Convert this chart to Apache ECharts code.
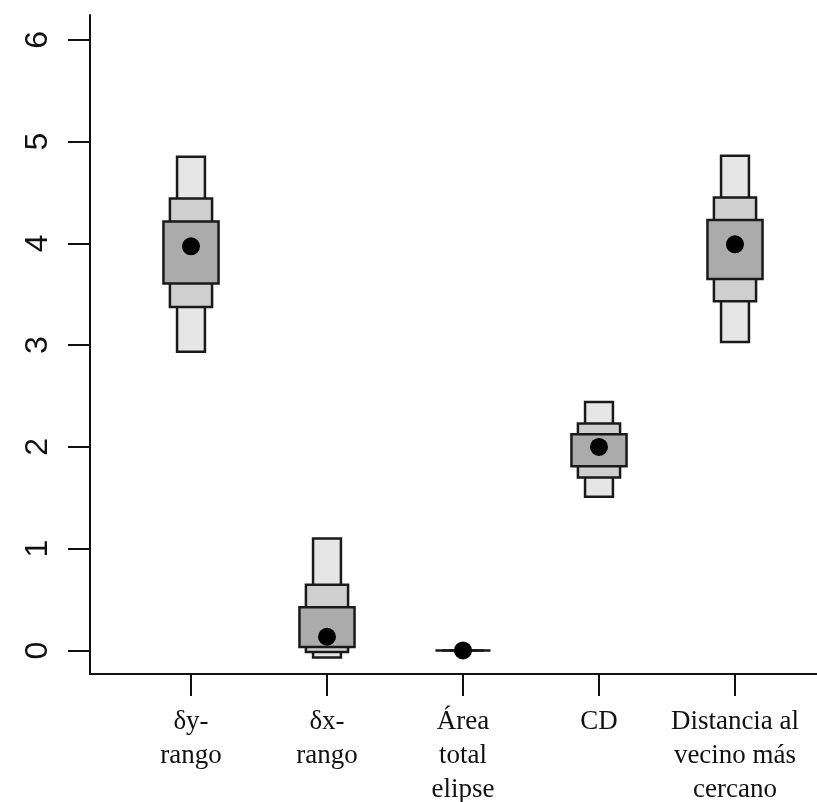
<!DOCTYPE html>
<html>
<head>
<meta charset="utf-8">
<script src="https://cdn.jsdelivr.net/npm/echarts@6/dist/echarts.min.js"></script>
<style>html,body{margin:0;padding:0;background:#fff}#c{width:817px;height:802px}</style>
</head>
<body>
<div id="c"></div>
<script>
const categories = ['δy-\nrango', 'δx-\nrango', 'Área\ntotal\nelipse', 'CD', 'Distancia al\nvecino más\ncercano'];
const outerLow  = [2.935, -0.07, 0, 1.51, 3.03];
const outerHigh = [4.85, 1.10, 0, 2.44, 4.86];
const midLow    = [3.375, -0.015, 0, 1.70, 3.43];
const midHigh   = [4.44, 0.645, 0, 2.23, 4.45];
const innerLow  = [3.605, 0.035, 0, 1.81, 3.65];
const innerHigh = [4.215, 0.425, 0, 2.125, 4.23];
const pointValues = [3.97, 0.135, 0, 2.00, 3.99];
const yTicks = [0, 1, 2, 3, 4, 5, 6];
const xTicks = [1, 2, 3, 4, 5];

const data = categories.map((c, i) => [i + 1, outerLow[i], outerHigh[i], midLow[i], midHigh[i], innerLow[i], innerHigh[i], pointValues[i]]);

const levels = [
  { lo: 1, hi: 2, frac: 0.205, fill: '#e6e6e6' },
  { lo: 3, hi: 4, frac: 0.31, fill: '#cfcfcf' },
  { lo: 5, hi: 6, frac: 0.405, fill: '#ababab' }
];

const chart = echarts.init(document.getElementById('c'), null, { renderer: 'canvas' });
chart.setOption({
  animation: false,
  backgroundColor: '#ffffff',
  grid: { left: 90, right: 0, top: 15, bottom: 128, containLabel: false, outerBoundsMode: 'none' },
  xAxis: {
    type: 'value', min: 0.2574, max: 5.603,
    splitLine: { show: false },
    axisLine: { show: true, onZero: false, lineStyle: { color: '#111', width: 2 } },
    axisTick: { show: true, length: 22, customValues: xTicks, lineStyle: { color: '#111', width: 2 } },
    axisLabel: {
      customValues: xTicks, margin: 31,
      fontFamily: 'Liberation Serif', fontSize: 27, lineHeight: 34, color: '#111',
      formatter: v => categories[Math.round(v) - 1] || ''
    }
  },
  yAxis: {
    type: 'value', min: -0.231, max: 6.243,
    splitLine: { show: false },
    axisLine: { show: true, onZero: false, lineStyle: { color: '#111', width: 2 } },
    axisTick: { show: true, length: 22, customValues: yTicks, lineStyle: { color: '#111', width: 2 } },
    axisLabel: {
      customValues: yTicks, rotate: 90, margin: 36,
      fontFamily: 'Liberation Sans', fontSize: 32, color: '#111'
    }
  },
  series: [{
    type: 'custom',
    data: data,
    encode: { x: 0, y: [1, 2, 3, 4, 5, 6, 7] },
    renderItem: function (params, api) {
      const x = api.value(0);
      const unit = api.size([1, 0])[0];
      const children = levels.map(l => {
        const top = api.coord([x, api.value(l.hi)]);
        const bot = api.coord([x, api.value(l.lo)]);
        const w = unit * l.frac;
        return {
          type: 'rect',
          shape: { x: top[0] - w / 2, y: top[1], width: w, height: bot[1] - top[1] },
          style: { fill: l.fill, stroke: '#1a1a1a', lineWidth: 2.5 }
        };
      });
      const p = api.coord([x, api.value(7)]);
      children.push({ type: 'circle', shape: { cx: p[0], cy: p[1], r: 9 }, style: { fill: '#000' } });
      return { type: 'group', children: children };
    }
  }]
});
</script>
</body>
</html>
